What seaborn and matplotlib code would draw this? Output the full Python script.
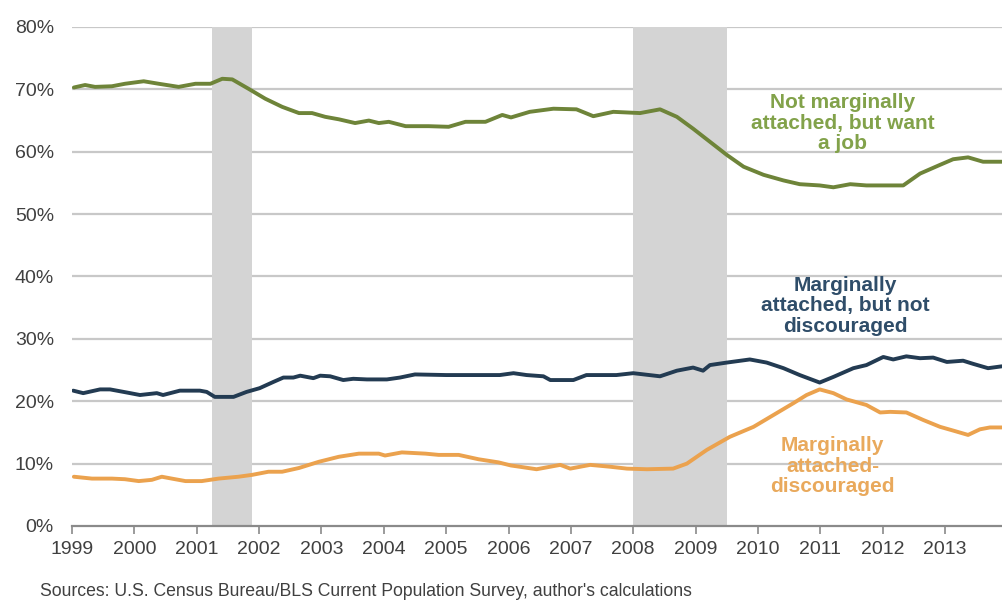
import matplotlib
matplotlib.use("Agg")
import matplotlib.pyplot as plt
import seaborn as sns
import pandas as pd

# ---- data (fractional years, percent) ----
green_x = [1999.03, 1999.21, 1999.37, 1999.64, 1999.85, 2000.15, 2000.39, 2000.71, 2000.98,
           2001.22, 2001.41, 2001.57, 2001.83, 2002.10, 2002.37, 2002.64, 2002.85, 2003.06,
           2003.28, 2003.54, 2003.76, 2003.92, 2004.08, 2004.35, 2004.72, 2005.04, 2005.31,
           2005.63, 2005.90, 2006.04, 2006.34, 2006.72, 2007.09, 2007.36, 2007.68, 2008.11,
           2008.43, 2008.70, 2008.96, 2009.23, 2009.50, 2009.77, 2010.09, 2010.41, 2010.67,
           2010.99, 2011.21, 2011.48, 2011.74, 2012.06, 2012.33, 2012.60, 2012.92, 2013.13,
           2013.37, 2013.61, 2013.91]
green_y = [70.3, 70.7, 70.4, 70.5, 70.9, 71.3, 70.9, 70.4, 70.9,
           70.9, 71.7, 71.6, 70.1, 68.5, 67.2, 66.2, 66.2, 65.6,
           65.2, 64.6, 65.0, 64.6, 64.8, 64.1, 64.1, 64.0, 64.8,
           64.8, 65.9, 65.5, 66.4, 66.9, 66.8, 65.7, 66.4, 66.2,
           66.8, 65.6, 63.7, 61.6, 59.5, 57.6, 56.3, 55.4, 54.8,
           54.6, 54.3, 54.8, 54.6, 54.6, 54.6, 56.5, 57.9, 58.8,
           59.1, 58.4, 58.4]

blue_x = [1999.02, 1999.18, 1999.45, 1999.61, 1999.88, 2000.09, 2000.36, 2000.46, 2000.73,
          2001.05, 2001.16, 2001.29, 2001.59, 2001.80, 2002.01, 2002.23, 2002.39, 2002.55,
          2002.66, 2002.87, 2002.98, 2003.14, 2003.35, 2003.51, 2003.73, 2004.05, 2004.26,
          2004.50, 2005.00, 2005.50, 2005.86, 2006.08, 2006.29, 2006.56, 2006.67, 2007.04,
          2007.25, 2007.73, 2008.00, 2008.43, 2008.70, 2008.96, 2009.12, 2009.23, 2009.50,
          2009.87, 2010.14, 2010.41, 2010.67, 2010.99, 2011.21, 2011.53, 2011.74, 2012.01,
          2012.17, 2012.38, 2012.60, 2012.81, 2013.03, 2013.29, 2013.45, 2013.69, 2013.91]
blue_y = [21.7, 21.3, 21.9, 21.9, 21.4, 21.0, 21.3, 21.0, 21.7,
          21.7, 21.5, 20.7, 20.7, 21.5, 22.1, 23.1, 23.8, 23.8,
          24.1, 23.7, 24.1, 24.0, 23.4, 23.6, 23.5, 23.5, 23.8,
          24.3, 24.2, 24.2, 24.2, 24.5, 24.2, 24.0, 23.4, 23.4,
          24.2, 24.2, 24.5, 24.0, 24.9, 25.4, 24.9, 25.8, 26.2,
          26.7, 26.2, 25.3, 24.2, 23.0, 23.9, 25.3, 25.8, 27.1,
          26.7, 27.2, 26.9, 27.0, 26.3, 26.5, 26.0, 25.3, 25.6]

orange_x = [1999.03, 1999.32, 1999.64, 1999.85, 2000.07, 2000.28, 2000.44, 2000.60, 2000.82,
            2001.08, 2001.35, 2001.67, 2001.89, 2002.15, 2002.37, 2002.64, 2002.96, 2003.28,
            2003.60, 2003.92, 2004.02, 2004.29, 2004.67, 2004.88, 2005.20, 2005.52, 2005.84,
            2006.04, 2006.18, 2006.45, 2006.83, 2006.99, 2007.31, 2007.63, 2007.90, 2008.22,
            2008.64, 2008.86, 2009.18, 2009.55, 2009.93, 2010.25, 2010.57, 2010.78, 2010.99,
            2011.21, 2011.42, 2011.74, 2011.96, 2012.12, 2012.38, 2012.65, 2012.92, 2013.13,
            2013.37, 2013.56, 2013.72, 2013.91]
orange_y = [7.9, 7.6, 7.6, 7.5, 7.2, 7.4, 7.9, 7.6, 7.2,
            7.2, 7.6, 7.9, 8.2, 8.7, 8.7, 9.3, 10.3, 11.1,
            11.6, 11.6, 11.3, 11.8, 11.6, 11.4, 11.4, 10.7, 10.2,
            9.7, 9.5, 9.1, 9.8, 9.2, 9.8, 9.5, 9.2, 9.1,
            9.2, 10.0, 12.2, 14.3, 15.9, 17.8, 19.7, 21.0, 21.9,
            21.3, 20.3, 19.4, 18.2, 18.3, 18.2, 17.0, 15.9, 15.3,
            14.6, 15.5, 15.8, 15.8]

recessions = [(2001.25, 2001.89), (2008.0, 2009.5)]
year_ticks = list(range(1999, 2014))
pct_ticks = [0, 10, 20, 30, 40, 50, 60, 70, 80]

labels = ["Not marginally\nattached, but want\na job",
          "Marginally\nattached, but not\ndiscouraged",
          "Marginally\nattached-\ndiscouraged"]
source = "Sources: U.S. Census Bureau/BLS Current Population Survey, author's calculations"

GREEN = "#6e8439"
BLUE = "#233b52"
ORANGE = "#eba24e"
GREEN_T = "#82a24a"
BLUE_T = "#2f4d69"
ORANGE_T = "#e9a95c"

sns.set_theme(style="white")
plt.rcParams["font.family"] = ["Liberation Sans", "DejaVu Sans"]

fig = plt.figure(figsize=(10.03, 6.02), dpi=100)
ax = fig.add_axes([72 / 1003, 1 - 526 / 602, 1 - 72 / 1003, (526 - 27) / 602])

for v in pct_ticks[1:]:
    ax.axhline(v, color="#c8c8c8", lw=1.6, zorder=1)
for a, b in recessions:
    ax.axvspan(a, b, color="#d4d4d4", lw=0, zorder=2)

df_g = pd.DataFrame({"year": green_x, "pct": green_y})
df_b = pd.DataFrame({"year": blue_x, "pct": blue_y})
df_o = pd.DataFrame({"year": orange_x, "pct": orange_y})
sns.lineplot(data=df_g, x="year", y="pct", color=GREEN, lw=2.8, ax=ax, zorder=3)
sns.lineplot(data=df_b, x="year", y="pct", color=BLUE, lw=2.8, ax=ax, zorder=3)
sns.lineplot(data=df_o, x="year", y="pct", color=ORANGE, lw=2.8, ax=ax, zorder=3)

ax.set_xlim(1999, 2013.93)
ax.set_ylim(0, 80)
ax.set_xticks(year_ticks)
ax.set_xticklabels([str(y) for y in year_ticks], fontsize=14, color="#404040")
ax.set_yticks(pct_ticks)
ax.set_yticklabels([f"{p}%" for p in pct_ticks], fontsize=14, color="#404040")
ax.tick_params(axis="x", direction="out", length=6, width=1.2, color="#8a8a8a", pad=5, bottom=True)
ax.tick_params(axis="y", length=0, pad=13)
ax.set_xlabel("")
ax.set_ylabel("")
for s in ["top", "right", "left"]:
    ax.spines[s].set_visible(False)
ax.spines["bottom"].set_color("#8a8a8a")
ax.spines["bottom"].set_linewidth(1.6)
ax.spines["bottom"].set_zorder(4)

ax.text(2011.36, 64.6, labels[0], ha="center", va="center", fontsize=15, fontweight="bold",
        color=GREEN_T, linespacing=1.08, zorder=5)
ax.text(2011.40, 35.3, labels[1], ha="center", va="center", fontsize=15, fontweight="bold",
        color=BLUE_T, linespacing=1.08, zorder=5)
ax.text(2011.20, 9.6, labels[2], ha="center", va="center", fontsize=15, fontweight="bold",
        color=ORANGE_T, linespacing=1.08, zorder=5)

fig.text(40 / 1003, 1 - 592 / 602, source, ha="left", va="center", fontsize=12.7, color="#404040")

fig.savefig("out.png", dpi=100)
